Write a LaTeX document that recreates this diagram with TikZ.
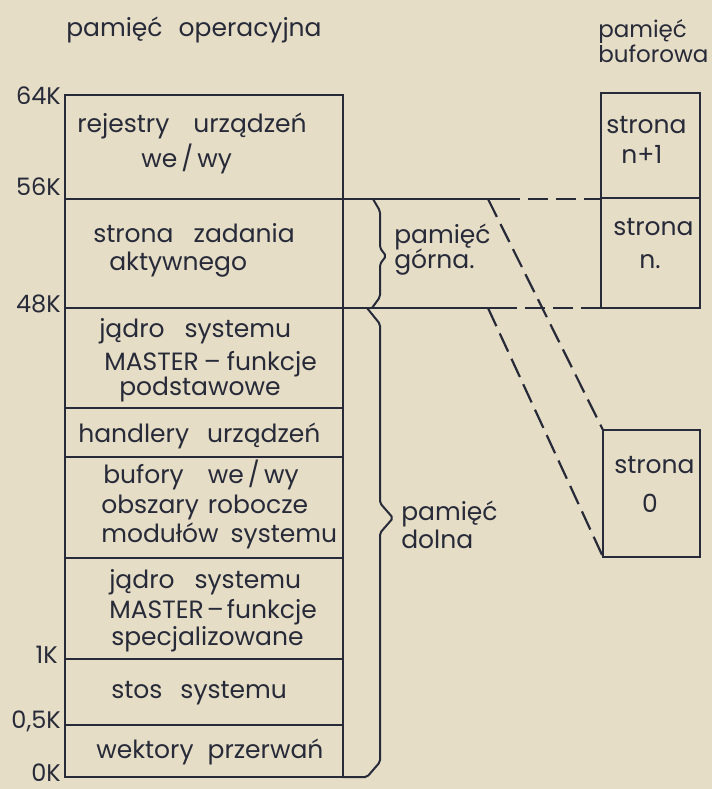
\documentclass[tikz,border=0pt]{standalone}
\usepackage{fontspec}
\setmainfont{Poppins}
\definecolor{paper}{HTML}{E6DDC6}
\definecolor{ink}{HTML}{272A38}
\newcommand{\gp}[1]{\hspace*{#1pt}}
\begin{document}
\begin{tikzpicture}[x=1pt,y=-1pt,line width=2.5pt,draw=ink,
  txt/.style={anchor=base west,inner sep=0pt,font=\fontsize{25}{28}\selectfont,text=ink},
  lbl/.style={anchor=base east,inner sep=0pt,font=\fontsize{24}{28}\selectfont,text=ink},
  brace/.style={draw=ink,line width=2pt,rounded corners=2pt},
  dsh/.style={draw=ink,line width=2.2pt,dash pattern=on 20pt off 8pt}]
\fill[paper] (0,0) rectangle (712,789);
\useasboundingbox (0,0) rectangle (712,789);
% coordinates
\coordinate (mTL) at (65,95);
\coordinate (mBR) at (343,777);
\coordinate (bTL) at (601,93);
\coordinate (bBR) at (700,308);
\coordinate (zTL) at (603,430);
\coordinate (zBL) at (603,557);
\coordinate (zBR) at (700,557);
\coordinate (l56a) at (65,199);
\coordinate (l56b) at (500,199);
\coordinate (l56c) at (601,199);
\coordinate (l48a) at (65,308);
\coordinate (l48b) at (497,308);
\coordinate (l48c) at (601,308);
\coordinate (d1) at (488,199);
\coordinate (d2) at (488,308);
% main box
\draw (mTL) rectangle (mBR);
\draw (l56a) -- (l56b);
\draw (l48a) -- (l48b);
\draw (65,408) -- (343,408);
\draw (65,457) -- (343,457);
\draw (65,558) -- (343,558);
\draw (65,659) -- (343,659);
\draw (65,725) -- (343,725);
% buffer boxes
\draw (bTL) rectangle (bBR);
\draw (601,198) -- (700,198);
\draw (zTL) rectangle (zBR);
% dashed
\draw[dsh] (l56b) -- (l56c);
\draw[dsh] (l48b) -- (l48c);
\draw[dsh] (d1) -- (zTL);
\draw[dsh] (d2) -- (zBL);
% braces
\draw[brace] (373,199) -- (380,211) -- (380,248) -- (386,256) -- (380,264) -- (380,297) -- (372,308);
\draw[brace] (367,308) -- (380,324) -- (380,503) -- (393,518) -- (380,533) -- (380,762) -- (367,777) -- (343,777);
% labels left
\node[lbl] (k64) at (62,105) {64K};
\node[lbl] (k56) at (62,195) {56K};
\node[lbl] (k48) at (62,312) {48K};
\node[lbl] (k1) at (59,663) {1K};
\node[lbl] (k05) at (62,728) {0,5K};
\node[lbl] (k0) at (62,781) {0K};
% titles
\node[txt] (t1) at (65,37) {pamięć\gp{16}operacyjna};
\node[txt,font=\fontsize{23}{26}\selectfont] (t2a) at (597,38) {pamięć};
\node[txt,font=\fontsize{23}{26}\selectfont] (t2b) at (597,63) {buforowa};
% main box texts
\node[txt] (a1) at (76,132) {rejestry\gp{24}urządzeń};
\node[txt] (a2) at (140,167) {we\,/\,wy};
\node[txt] (b1) at (92,242) {strona\gp{20}zadania};
\node[txt] (b2) at (108,270) {aktywnego};
\node[txt] (c1) at (98,337) {jądro\gp{20}systemu};
\node[txt] (c2) at (103,370) {MASTER\gp{5}–\gp{6}funkcje};
\node[txt] (c3) at (118,395) {podstawowe};
\node[txt] (e1) at (77,442) {handlery\gp{18}urządzeń};
\node[txt] (f1) at (102,483) {bufory\gp{24}we\,/\,wy};
\node[txt] (f2) at (100,513) {obszary\gp{9}robocze};
\node[txt] (f3) at (100,542) {modułów\gp{12}systemu};
\node[txt] (g1) at (108,588) {jądro\gp{20}systemu};
\node[txt] (g2) at (108,618) {MASTER\gp{3}–\gp{3}funkcje};
\node[txt] (g3) at (110,645) {specjalizowane};
\node[txt] (h1) at (110,698) {stos\gp{18}systemu};
\node[txt] (i1) at (95,758) {wektory\gp{14}przerwań};
% buffer texts
\node[txt] (n1a) at (605,133) {strona};
\node[txt] (n1b) at (620,163) {n+1};
\node[txt] (n0a) at (612,235) {strona};
\node[txt] (n0b) at (638,268) {n.};
\node[txt] (z0a) at (613,473) {strona};
\node[anchor=base,inner sep=0pt,font=\fontsize{25}{28}\selectfont,text=ink] (z0b) at (650,512) {0};
% brace labels
\node[txt] (pg1) at (393,243) {pamięć};
\node[txt] (pg2) at (393,268) {górna.};
\node[txt] (pd1) at (400,520) {pamięć};
\node[txt] (pd2) at (400,548) {dolna};
\end{tikzpicture}
\end{document}
